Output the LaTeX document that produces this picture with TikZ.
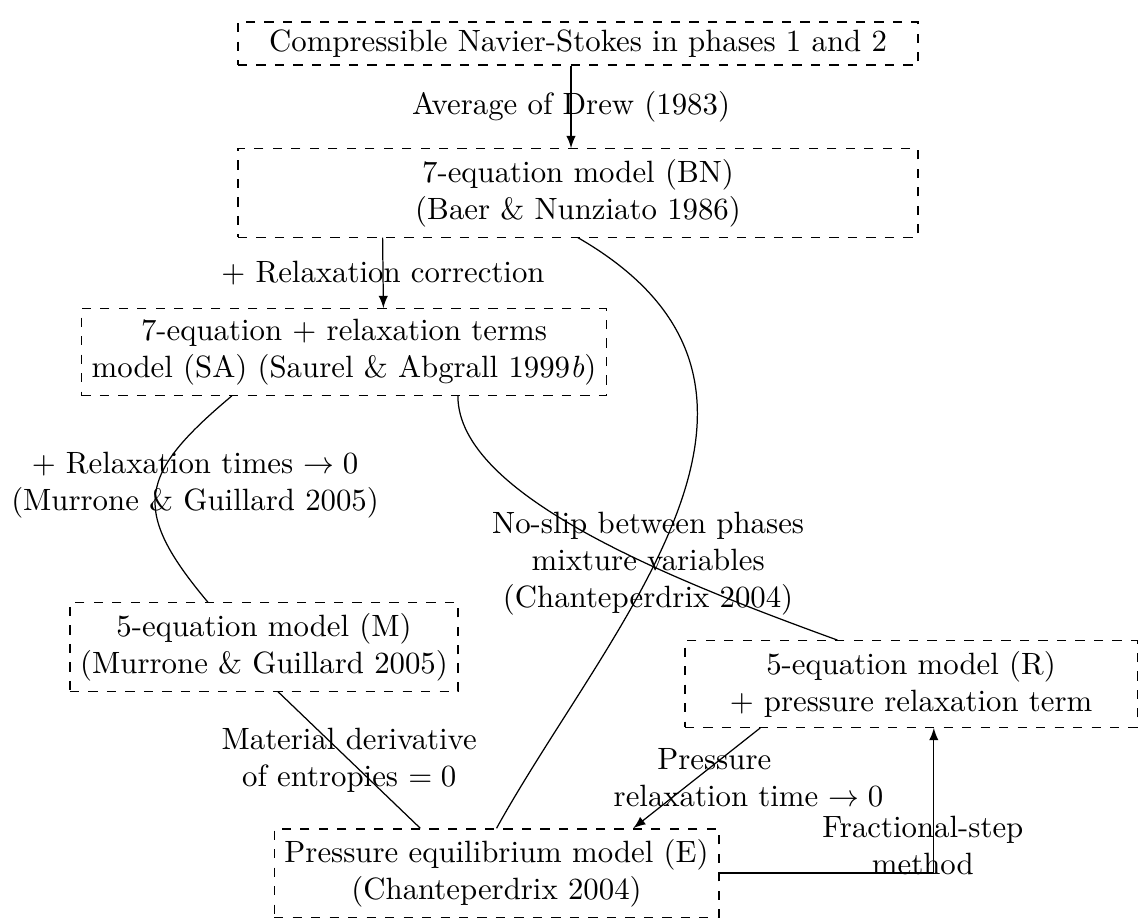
\documentclass[tikz,border=0pt]{standalone}
\usetikzlibrary{positioning, calc}

\begin{document}
\begin{tikzpicture}[
        % Styles
        model/.style={draw, dashed, align=center},
        lab/.style={align=center},
        flow/.style={-latex},
    ]
        \useasboundingbox (0,0) rectangle (13.02,-10.475);

        % === Models ===
        \node[model, minimum width=77.6mm, inner ysep=2.5pt] (ns) at (6.596,-0.496) {Compressible Navier-Stokes in phases 1 and 2};
        \node[model, minimum width=77.6mm] (bn) at (6.596,-2.202) {7-equation model (BN)\\(Baer \& Nunziato 1986)};
        \node[model] (sa) at (3.925,-4.017) {7-equation + relaxation terms\\model (SA) (Saurel \& Abgrall 1999\textit{b})};
        \node[model] (m) at (3.013,-7.383) {5-equation model (M)\\(Murrone \& Guillard 2005)};
        \node[model, minimum width=51.6mm] (r) at (10.396,-7.805) {5-equation model (R)\\+ pressure relaxation term};
        \node[model] (e) at (5.666,-9.962) {Pressure equilibrium model (E)\\(Chanteperdrix 2004)};

        % === Straight arrows ===
        \draw[flow] ([xshift=-0.8mm]ns.south) -- ([xshift=-0.8mm]bn.north) node[lab, midway] {Average of Drew (1983)};
        \draw[flow] ([xshift=-22.3mm]bn.south) -- ([xshift=4.5mm]sa.north) node[lab, midway] {+ Relaxation correction};

        % === Curved links ===
        \draw ([xshift=-12.8mm]sa.south) to[out=220, in=130, looseness=1.5] node[lab, pos=0.5, xshift=4.5mm, yshift=1mm] {+ Relaxation times $\rightarrow 0$\\(Murrone \& Guillard 2005)} ([xshift=-6.4mm]m.north);
        \draw ([xshift=13mm]sa.south) .. controls +(0,-1.14) and +(160:2.0) .. ([xshift=-8.4mm]r.north) node[lab, pos=0.5, xshift=7.1mm, yshift=-3.5mm] {No-slip between phases\\mixture variables\\(Chanteperdrix 2004)};
        \draw (bn.south) .. controls +(-30:3.42) and +(61:2.66) .. (e.north);

        % === Links into E ===
        \draw ([xshift=1.6mm]m.south) -- ([xshift=-8.7mm]e.north) node[lab, midway] {Material derivative\\of entropies $=0$};
        \draw[flow] ([xshift=-17.2mm]r.south) -- ([xshift=15.6mm]e.north) node[lab, midway, xshift=5.9mm] {Pressure\hspace*{7.8mm}\\relaxation time $\rightarrow 0$};
        \draw[flow] (e.east) -| ([xshift=2.6mm]r.south) node[lab, pos=0.5, xshift=-1.25mm, yshift=3.1mm] {Fractional-step\\method};

    \end{tikzpicture}
\end{document}
